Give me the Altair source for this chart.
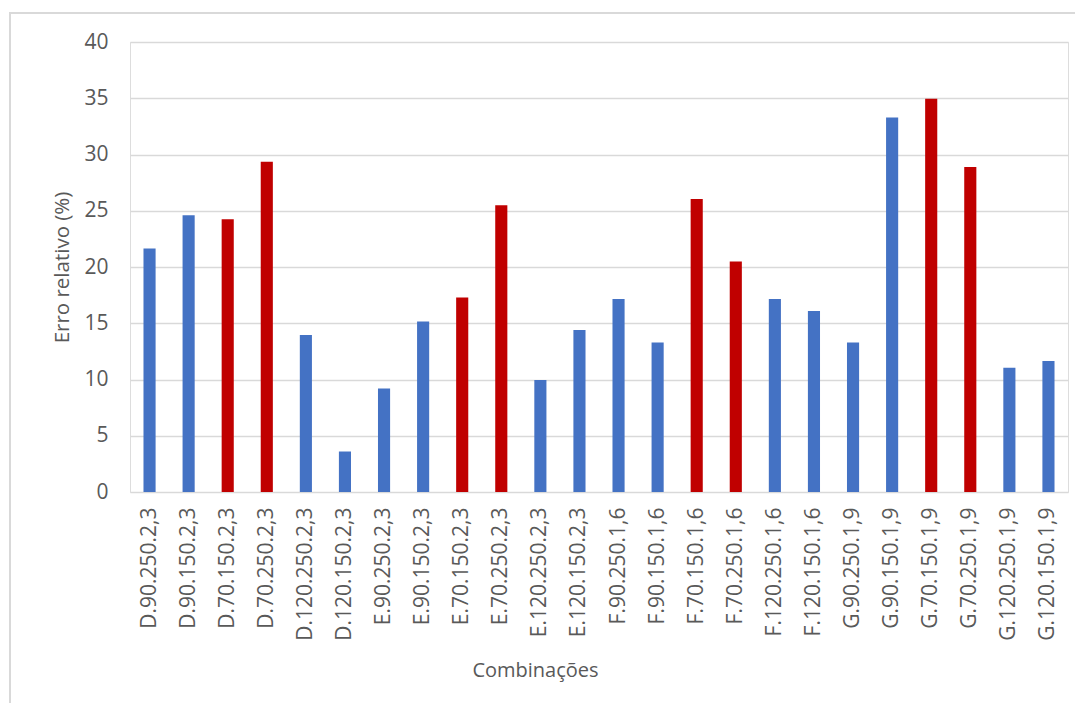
import altair as alt
import pandas as pd

categories = [
    "D.90.250.2,3", "D.90.150.2,3", "D.70.150.2,3", "D.70.250.2,3",
    "D.120.250.2,3", "D.120.150.2,3", "E.90.250.2,3", "E.90.150.2,3",
    "E.70.150.2,3", "E.70.250.2,3", "E.120.250.2,3", "E.120.150.2,3",
    "F.90.250.1,6", "F.90.150.1,6", "F.70.150.1,6", "F.70.250.1,6",
    "F.120.250.1,6", "F.120.150.1,6", "G.90.250.1,9", "G.90.150.1,9",
    "G.70.150.1,9", "G.70.250.1,9", "G.120.250.1,9", "G.120.150.1,9",
]
values = [
    21.65, 24.6, 24.25, 29.35, 13.95, 3.6, 9.2, 15.15,
    17.3, 25.5, 9.95, 14.4, 17.15, 13.3, 26.05, 20.5,
    17.15, 16.1, 13.3, 33.3, 34.95, 28.9, 11.05, 11.65,
]
groups = [
    "azul", "azul", "vermelho", "vermelho", "azul", "azul", "azul", "azul",
    "vermelho", "vermelho", "azul", "azul", "azul", "azul", "vermelho", "vermelho",
    "azul", "azul", "azul", "azul", "vermelho", "vermelho", "azul", "azul",
]

df = pd.DataFrame({"comb": categories, "erro": values, "grupo": groups})

FONT = "Open Sans"
TXT = "#595959"

bars = alt.Chart(df).mark_bar().encode(
    x=alt.X(
        "comb:N",
        sort=categories,
        scale=alt.Scale(paddingInner=0.69, paddingOuter=0.345),
        axis=alt.Axis(
            title="Combinações",
            labelAngle=-90,
            labelFont=FONT,
            labelFontSize=21,
            labelColor=TXT,
            labelPadding=15,
            ticks=False,
            domain=False,
            titleFont=FONT,
            titleFontSize=20,
            titleFontWeight="normal",
            titleColor=TXT,
            titleX=405,
            titleY=184,
            titleBaseline="alphabetic",
            titleAlign="center",
        ),
    ),
    y=alt.Y(
        "erro:Q",
        scale=alt.Scale(domain=[0, 40], nice=False),
        axis=alt.Axis(
            title="Erro relativo (%)",
            values=[0, 5, 10, 15, 20, 25, 30, 35, 40],
            labelFont=FONT,
            labelFontSize=21,
            labelColor=TXT,
            labelPadding=22,
            ticks=False,
            domain=False,
            grid=True,
            gridColor="#d9d9d9",
            gridWidth=1.3,
            titleFont=FONT,
            titleFontSize=20.5,
            titleFontWeight="normal",
            titleColor=TXT,
            titleAngle=-90,
            titleX=-62,
            titleY=225,
            titleAlign="center",
            titleBaseline="alphabetic",
        ),
    ),
    color=alt.Color(
        "grupo:N",
        scale=alt.Scale(domain=["azul", "vermelho"], range=["#4472C4", "#C00000"]),
        legend=None,
    ),
)

frame = alt.Chart(df).mark_rect(
    fill="transparent", stroke="#d9d9d9", strokeWidth=1.3, clip=False
).encode(
    x=alt.value(-120),
    x2=alt.value(970),
    y=alt.value(-29),
    y2=alt.value(700),
)

chart = alt.layer(frame, bars).properties(
    width=938,
    height=450,
    autosize=alt.AutoSizeParams(type="none"),
    padding={"left": 122, "top": 34, "right": 7, "bottom": 211},
).configure_view(stroke=None).configure(background="white")

chart.save("out.html", embed_options={"renderer": "svg", "actions": False})
